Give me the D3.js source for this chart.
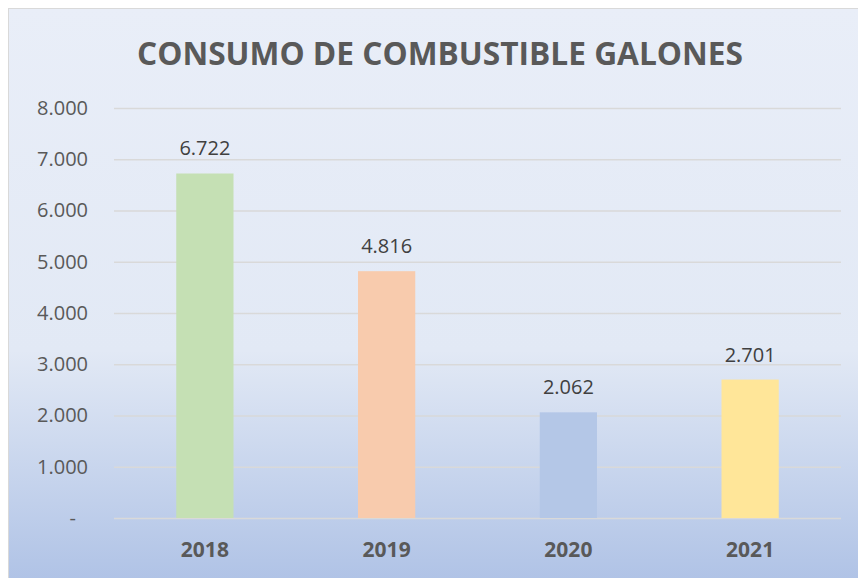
<!DOCTYPE html>
<html>
<head>
<meta charset="utf-8">
<script src="https://cdn.jsdelivr.net/npm/d3@7"></script>
<style>
  body { margin: 0; background: #fff; }
  svg { display: block; font-family: "Open Sans", "Noto Sans", sans-serif; }
</style>
</head>
<body>
<svg width="858" height="578"></svg>
<script>
var years = ["2018", "2019", "2020", "2021"]
var consumo = [6722, 4816, 2062, 2701]
var colores = ["#c5e0b4", "#f8cbad", "#b4c7e7", "#ffe699"]
var yTicks = [0, 1000, 2000, 3000, 4000, 5000, 6000, 7000, 8000]

var width = 858
var height = 578
var plotLeft = 114, plotRight = 841, plotTop = 108, plotBottom = 518

var fmt = d => d === 0 ? "-" : d3.format(",")(d).replace(/,/g, ".")

var svg = d3.select("svg")

var grad = svg.append("defs").append("linearGradient")
  .attr("id", "bg").attr("x1", 0).attr("y1", 0).attr("x2", 0).attr("y2", 1)
grad.append("stop").attr("offset", "0%").attr("stop-color", "#e9eef8")
grad.append("stop").attr("offset", "60%").attr("stop-color", "#e2e9f5")
grad.append("stop").attr("offset", "100%").attr("stop-color", "#b0c3e6")

svg.append("rect")
  .attr("x", 8.5).attr("y", 8.5)
  .attr("width", width - 8).attr("height", height - 8)
  .attr("fill", "url(#bg)")
  .attr("stroke", "#d9d9d9")

svg.append("text")
  .attr("x", 440).attr("y", 65)
  .attr("text-anchor", "middle")
  .attr("font-size", 32).attr("font-weight", "bold")
  .attr("fill", "#595959")
  .attr("textLength", 606)
  .attr("lengthAdjust", "spacingAndGlyphs")
  .text("CONSUMO DE COMBUSTIBLE GALONES")

var x = d3.scaleBand().domain(years).range([plotLeft, plotRight]).paddingInner(0.685).paddingOuter(0.3425)
var y = d3.scaleLinear().domain([0, 8000]).range([plotBottom, plotTop])

var yAxis = d3.axisLeft(y).tickValues(yTicks).tickSize(-(plotRight - plotLeft)).tickFormat(fmt).tickPadding(26)
var gy = svg.append("g").attr("transform", "translate(" + plotLeft + ",0)").call(yAxis)
gy.select(".domain").remove()
gy.selectAll(".tick line").attr("stroke", "#d9d9d9").attr("stroke-width", 1.5)
gy.selectAll(".tick text").attr("fill", "#595959").attr("font-size", 20).attr("font-family", "'Open Sans', sans-serif")
gy.selectAll(".tick text").filter(d => d === 0).attr("dx", -12)

svg.selectAll("rect.bar")
  .data(consumo)
  .enter().append("rect")
  .attr("class", "bar")
  .attr("x", (d, i) => x(years[i]))
  .attr("width", x.bandwidth())
  .attr("y", d => y(d))
  .attr("height", d => y(0) - y(d))
  .attr("fill", (d, i) => colores[i])

svg.selectAll("text.val")
  .data(consumo)
  .enter().append("text")
  .attr("class", "val")
  .attr("x", (d, i) => x(years[i]) + x.bandwidth() / 2)
  .attr("y", d => y(d) - 18)
  .attr("text-anchor", "middle")
  .attr("font-size", 20).attr("fill", "#404040")
  .text(fmt)

var xAxis = d3.axisBottom(x).tickSize(0).tickPadding(24)
var gx = svg.append("g").attr("transform", "translate(0," + plotBottom + ")").call(xAxis)
gx.select(".domain").remove()
gx.selectAll(".tick text").attr("fill", "#595959").attr("font-size", 21).attr("font-weight", "bold").attr("font-family", "'Open Sans', sans-serif")
</script>
</body>
</html>
